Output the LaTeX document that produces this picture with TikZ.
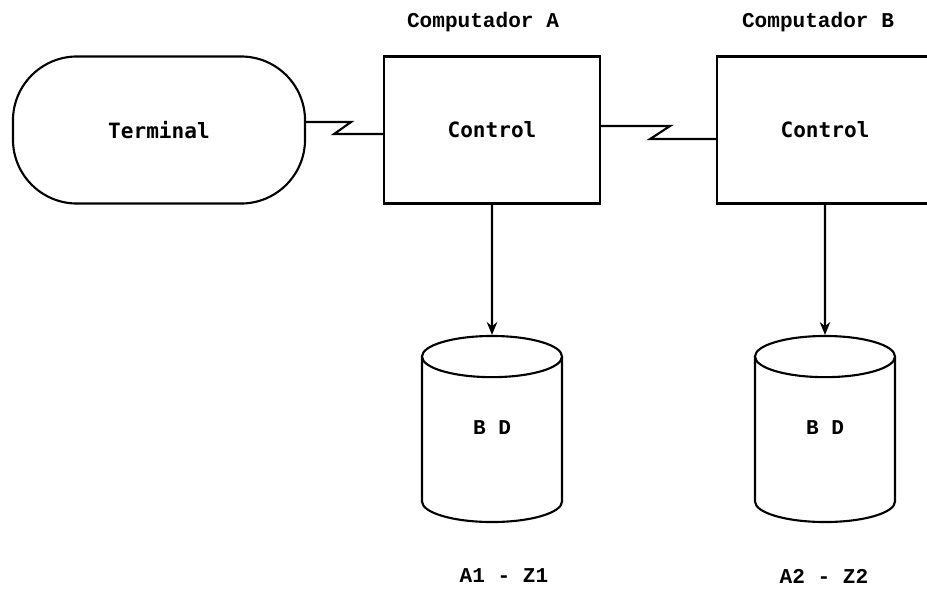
\documentclass[tikz,border=0pt]{standalone}
\usepackage{fontspec}
\setmonofont{Liberation Mono}
\newfontfamily\termfont{DejaVu Sans Mono}
\usetikzlibrary{positioning,shapes.geometric,arrows.meta}

\begin{document}
\begin{tikzpicture}[x=0.025cm,y=-0.025cm,inner sep=0.4mm,line width=1.5pt,
  every node/.style={font=\fontsize{15}{18}\selectfont\ttfamily\bfseries},
  termbox/.style={draw,rectangle,rounded corners=1.6cm,minimum width=7.3cm,
    minimum height=3.675cm,font=\fontsize{15}{18}\selectfont\termfont\bfseries},
  ctrlbox/.style={draw,rectangle,minimum width=5.4cm,minimum height=3.675cm,
    font=\fontsize{15}{18}\selectfont\termfont\bfseries},
  dbase/.style={draw,cylinder,shape border rotate=90,aspect=1,anchor=shape center,
    minimum width=3.5cm,minimum height=4.65cm}]

\useasboundingbox (0,0) rectangle (927,593);

\node[termbox] (term) at (159,130) {Terminal};
\node[ctrlbox] (ctrlA) at (492,130) {Control};
\node[ctrlbox] (ctrlB) at (825,130) {Control};

\node (titleA) at (483,22) {Computador A};
\node (titleB) at (818,22) {Computador B};

\node[dbase] (dbA) at (492,429) {\phantom{B D}};
\node[dbase] (dbB) at (825,429) {\phantom{B D}};
\node (labA) at (492,428) {B D};
\node (labB) at (825,428) {B D};

\node (keysA) at (504,576) {A1 - Z1};
\node (keysB) at (824,576) {A2 - Z2};

% lineas de comunicacion
\draw ([yshift=0.2cm]term.east) -- ++(45,0) -- ++(-17,12) coordinate (zzA)
	-- (zzA -| ctrlA.west);
\draw ([yshift=0.1cm]ctrlA.east) -- ++(69,0) -- ++(-20,13) coordinate (zzB)
	-- (zzB -| ctrlB.west);

\draw [-{Stealth[length=3.2mm,width=2.6mm]}] (ctrlA.south) -- (dbA.north);
\draw [-{Stealth[length=3.2mm,width=2.6mm]}] (ctrlB.south) -- (dbB.north);

\end{tikzpicture}
\end{document}
